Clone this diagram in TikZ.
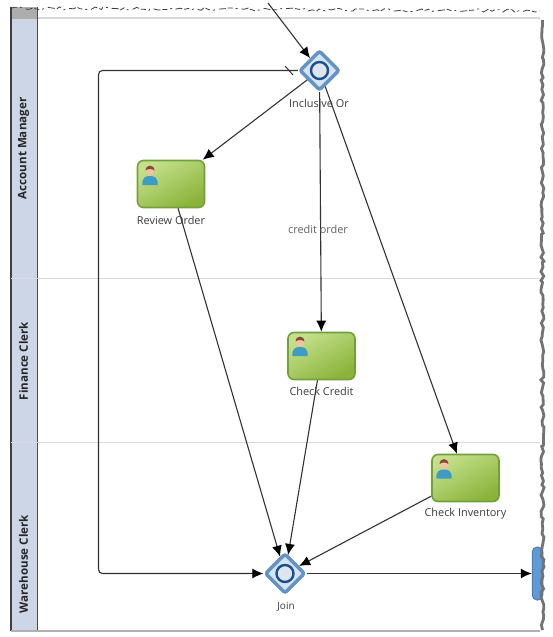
\documentclass[tikz,border=0pt]{standalone}
\usepackage{fontspec}
\setmainfont{Open Sans}
\usetikzlibrary{shapes.geometric,arrows.meta,decorations.pathmorphing,calc}
\definecolor{lanefill}{HTML}{CDD6E6}
\definecolor{lanerule}{HTML}{D9D9D9}
\definecolor{wire}{HTML}{333333}
\definecolor{labelgrey}{HTML}{3C3C3C}
\definecolor{taskedge}{HTML}{72A03C}
\definecolor{taskhi}{HTML}{C4E08C}
\definecolor{tasklo}{HTML}{8BB33A}
\definecolor{gateedge}{HTML}{6493C4}
\definecolor{gatefill}{HTML}{D3E5F5}
\definecolor{ringedge}{HTML}{1F4E8C}
\definecolor{ringfill}{HTML}{DCE6EC}
\definecolor{personbody}{HTML}{3E9CC4}
\definecolor{personskin}{HTML}{EFC3A4}
\definecolor{personhair}{HTML}{8A4A32}
\definecolor{partialblue}{HTML}{5C9BD8}
\tikzset{
  wirearrow/.style={draw=wire,line width=1.1pt,-{Latex[length=11pt,width=10pt,color=black]}},
  wireplain/.style={draw=wire,line width=1pt},
  taskbox/.style={rectangle,rounded corners=6pt,draw=taskedge,line width=1.6pt,
    minimum width=67pt,minimum height=47pt,inner sep=0pt,shading=axis,top color=taskhi,bottom color=tasklo,shading angle=30},
  gatewaybox/.style={diamond,aspect=1,minimum size=40pt,inner sep=0pt,draw=gateedge,line width=3.4pt,rounded corners=2.5pt,fill=gatefill},
  ringmark/.style={circle,minimum size=17pt,inner sep=0pt,draw=ringedge,line width=2.4pt,fill=ringfill},
  tasklabel/.style={font=\fontsize{10.9}{13}\selectfont,text=labelgrey,inner sep=0pt},
  lanelabel/.style={font=\fontsize{11.6}{13}\selectfont\bfseries,text=black!85,rotate=90,inner sep=0pt},
  torn/.style={decorate,decoration={random steps,segment length=4pt,amplitude=1.6pt}},
  person/.pic={
    \fill[personbody] (-7.5,9) .. controls (-8.5,1.5) and (-4,0) .. (0,0) .. controls (4,0) and (8.5,1.5) .. (7.5,9) -- cycle;
    \fill[personskin] (-4.4,-5) .. controls (-4.4,-11.5) and (4.4,-11.5) .. (4.4,-5) .. controls (4.4,1.2) and (-4.4,1.2) .. cycle;
    \fill[personhair] (-4.4,-5.5) .. controls (-4.4,-12) and (4.4,-12) .. (4.4,-5.5) .. controls (2,-7.5) and (-2,-7.5) .. cycle;
  }
}
\begin{document}
\begin{tikzpicture}[x=1pt,y=-1pt]
\useasboundingbox (0,0) rectangle (552,637);
\fill[white] (0,0) rectangle (552,637);
% lane strip
\fill[black!32] (11,7) rectangle (37,19);
\fill[lanefill] (11,19) rectangle (37,630);
\draw[black!75,line width=1.2pt] (11,7) -- (11,631);
\draw[black!70,line width=1.1pt] (37.5,7) -- (37.5,631);
\draw[lanerule,line width=1.4pt] (38,18) -- (540,18);
\draw[lanerule,line width=1pt] (11,278) -- (540,278);
\draw[lanerule,line width=1pt] (11,442) -- (540,442);
\draw[black!30,line width=1.4pt] (11,631) -- (540,631);
\node[lanelabel] (lam) at (23.5,148.5) {Account Manager};
\node[lanelabel] (lfc) at (23.5,361) {Finance Clerk};
\node[lanelabel] (lwc) at (23.5,564) {Warehouse Clerk};
% partial task at the torn edge
\node[rectangle,rounded corners=5pt,draw=partialblue!80!black,fill=partialblue,line width=1pt,minimum width=10.5pt,minimum height=53pt,inner sep=0pt] (next) at (537.5,573.5) {};
% nodes
\node[gatewaybox] (inc) at (319.5,70.5) {};
\node[gatewaybox] (join) at (285,573.5) {};
\node[taskbox] (rev) at (171,184) {};
\node[taskbox] (cred) at (321.5,356) {};
\node[taskbox] (inv) at (465.5,478) {};
\pic at (150,176) {person};
\pic at (300,347) {person};
\pic at (444,469.5) {person};
% connectors
\coordinate (topend) at (268,3);
\draw[wirearrow] (topend) -- (inc);
\draw[wirearrow] (inc) -- (rev);
\draw[wirearrow] (inc) -- (cred);
\draw[wirearrow] (inc) -- (inv);
\draw[wirearrow] (rev) -- (join);
\draw[wirearrow] (cred) -- (join);
\draw[wirearrow] (inv) -- (join);
\coordinate (loopa) at (98.5,70.5);
\coordinate (loopb) at (98.5,573.5);
\draw[wirearrow,rounded corners=4pt] (inc) -- (loopa) -- (loopb) -- (join);
\draw[wirearrow] (join) -- (next);
% gateway faces over the wires
\node[gatewaybox] (incf) at (inc) {};
\node[ringmark] (incr) at (inc) {};
\node[gatewaybox] (joinf) at (join) {};
\node[ringmark] (joinr) at (join) {};
\coordinate (slasha) at (285,66);
\coordinate (slashb) at (293,75);
\draw[wireplain] (slasha) -- (slashb);
% labels
\node[tasklabel] (lin) at (319,103) {Inclusive Or};
\node[tasklabel] (lro) at (171,220.5) {Review Order};
\node[tasklabel,text=labelgrey!80] (lco) at (318,229) {credit order};
\node[tasklabel] (lcc) at (321.5,391.5) {Check Credit};
\node[tasklabel] (lci) at (465.5,513.5) {Check Inventory};
\node[tasklabel,font=\fontsize{10}{12}\selectfont] (ljn) at (286,607) {Join};
% torn edges
\pgfmathsetseed{11}
\draw[black!55,line width=2.8pt,torn] (542.5,20) -- (542.5,630);
\pgfmathsetseed{3}
\draw[black!75,line width=0.8pt,torn,dash pattern=on 5pt off 3pt on 2pt off 4pt on 7pt off 2pt] (12,8) -- (540,11);
\end{tikzpicture}
\end{document}
